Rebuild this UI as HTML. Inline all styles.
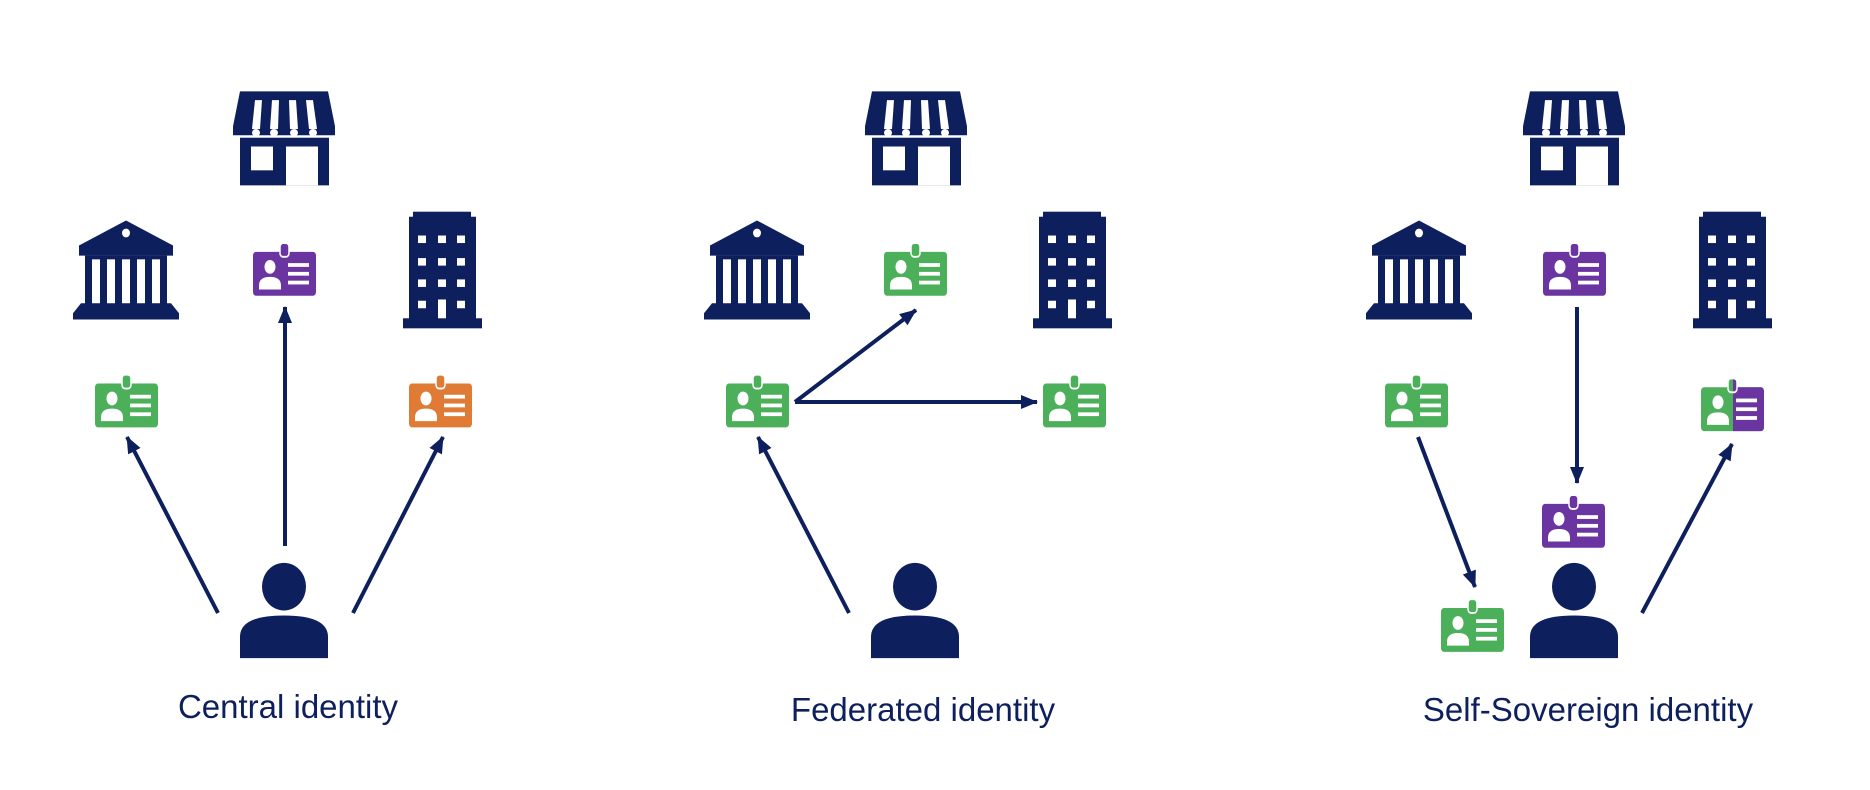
<!DOCTYPE html>
<html><head><meta charset="utf-8"><style>html,body{margin:0;padding:0;background:#fff}svg{display:block}</style></head>
<body>
<svg width="1870" height="790" viewBox="0 0 1870 790" xmlns="http://www.w3.org/2000/svg">
<defs>
<g id="card">
  <rect x="0" y="0" width="63" height="35" rx="3" fill="currentColor"/>
  <rect x="27" y="-7" width="9" height="11" rx="3" fill="currentColor" stroke="#fff" stroke-width="1.5"/>
  <circle cx="17" cy="12" r="5.5" fill="#fff"/>
  <path d="M6,30 V27 Q6,20 17,20 Q28,20 28,27 V30 Z" fill="#fff"/>
  <rect x="35" y="9" width="21" height="3" fill="#fff"/>
  <rect x="35" y="16" width="21" height="3" fill="#fff"/>
  <rect x="35" y="23" width="21" height="3" fill="#fff"/>
</g>
<g id="store">
  <polygon points="7,0 95,0 102,28 102,35 0,35 0,28" fill="#0d1f5c"/>
  <polygon points="22,7 29,7 27,30 19,30" fill="#fff"/>
  <polygon points="39,7 46,7 45,30 37,30" fill="#fff"/>
  <polygon points="56,7 63,7 65,30 57,30" fill="#fff"/>
  <polygon points="73,7 80,7 84,30 76,30" fill="#fff"/>
  <ellipse cx="23" cy="33" rx="4" ry="3" fill="#fff"/>
  <ellipse cx="41" cy="33" rx="4" ry="3" fill="#fff"/>
  <ellipse cx="61" cy="33" rx="4" ry="3" fill="#fff"/>
  <ellipse cx="80" cy="33" rx="4" ry="3" fill="#fff"/>
  <rect x="7" y="37" width="89" height="38" fill="#0d1f5c"/>
  <rect x="18" y="44" width="22" height="19" fill="#fff"/>
  <rect x="53" y="44" width="32" height="31" fill="#fff"/>
</g>
<g id="bank">
  <polygon points="53,0 100,20 100,28 6,28 6,20" fill="#0d1f5c"/>
  <ellipse cx="53" cy="10" rx="4" ry="3.5" fill="#fff"/>
  <rect x="12" y="28" width="82" height="40" fill="#0d1f5c"/>
  <rect x="19" y="31" width="8" height="37" fill="#fff"/>
  <rect x="34" y="31" width="8" height="37" fill="#fff"/>
  <rect x="49" y="31" width="8" height="37" fill="#fff"/>
  <rect x="64" y="31" width="8" height="37" fill="#fff"/>
  <rect x="79" y="31" width="8" height="37" fill="#fff"/>
  <polygon points="8,66 98,66 106,74 106,79 0,79 0,74" fill="#0d1f5c"/>
</g>
<g id="bldg">
  <rect x="10" y="0" width="58" height="6" fill="#0d1f5c"/>
  <rect x="6" y="4" width="67" height="83" fill="#0d1f5c"/>
  <rect x="0" y="85" width="79" height="8" fill="#0d1f5c"/>
  <g fill="#fff">
    <rect x="15" y="19" width="8" height="6"/><rect x="35" y="19" width="8" height="6"/><rect x="54" y="19" width="8" height="6"/>
    <rect x="15" y="37" width="8" height="6"/><rect x="35" y="37" width="8" height="6"/><rect x="54" y="37" width="8" height="6"/>
    <rect x="15" y="54" width="8" height="6"/><rect x="35" y="54" width="8" height="6"/><rect x="54" y="54" width="8" height="6"/>
    <rect x="15" y="71" width="8" height="6"/><rect x="35" y="70" width="8" height="15"/><rect x="54" y="71" width="8" height="6"/>
  </g>
</g>
<g id="person">
  <ellipse cx="0" cy="0" rx="22" ry="19" fill="#0d1f5c"/>
  <path d="M-44,57 V40 Q-44,23 0,23 Q44,23 44,40 V57 Z" fill="#0d1f5c"/>
</g>
<clipPath id="rhalf"><rect x="32" y="-10" width="40" height="50"/></clipPath>
<marker id="ah" markerUnits="userSpaceOnUse" markerWidth="18" markerHeight="16" refX="16" refY="8" orient="auto">
  <path d="M0,1 L17,8 L0,15 Z" fill="#0d1f5c"/>
</marker>
</defs>

<g transform="translate(0,70) scale(1,1.254) translate(0,-70)">
  <use href="#store" transform="translate(233,87)"/>
  <use href="#bank" transform="translate(73,190)"/>
  <use href="#bldg" transform="translate(403,183)"/>
  <use href="#card" transform="translate(253,215)" style="color:#6a35a0"/>
  <use href="#card" transform="translate(95,320)" style="color:#4caf5a"/>
  <use href="#card" transform="translate(409,320)" style="color:#e07b35"/>
  <use href="#person" transform="translate(284,482)"/>

  <use href="#store" transform="translate(865,87)"/>
  <use href="#bank" transform="translate(704,190)"/>
  <use href="#bldg" transform="translate(1033,183)"/>
  <use href="#card" transform="translate(884,215)" style="color:#4caf5a"/>
  <use href="#card" transform="translate(726,320)" style="color:#4caf5a"/>
  <use href="#card" transform="translate(1043,320)" style="color:#4caf5a"/>
  <use href="#person" transform="translate(915,482)"/>

  <use href="#store" transform="translate(1523,87)"/>
  <use href="#bank" transform="translate(1366,190)"/>
  <use href="#bldg" transform="translate(1693,183)"/>
  <use href="#card" transform="translate(1543,215)" style="color:#6a35a0"/>
  <use href="#card" transform="translate(1385,320)" style="color:#4caf5a"/>
  <g transform="translate(1701,323)">
    <use href="#card" style="color:#4caf5a"/>
    <g clip-path="url(#rhalf)"><use href="#card" style="color:#6a35a0"/></g>
  </g>
  <use href="#card" transform="translate(1542,416)" style="color:#6a35a0"/>
  <use href="#card" transform="translate(1441,499)" style="color:#4caf5a"/>
  <use href="#person" transform="translate(1574,482)"/>
</g>

<g stroke="#0d1f5c" stroke-width="4" fill="none" marker-end="url(#ah)">
  <line x1="218" y1="613" x2="127" y2="437"/>
  <line x1="285" y1="546" x2="285" y2="307"/>
  <line x1="353" y1="613" x2="443" y2="437"/>
  <line x1="795" y1="402" x2="916" y2="310"/>
  <line x1="795" y1="402" x2="1037" y2="402"/>
  <line x1="849" y1="613" x2="758" y2="437"/>
  <line x1="1418" y1="437" x2="1475" y2="587"/>
  <line x1="1577" y1="307" x2="1577" y2="483"/>
  <line x1="1642" y1="613" x2="1732" y2="444"/>
</g>

<g font-family="Liberation Sans, Arial, sans-serif" font-size="33" fill="#0d1f5c" text-anchor="middle">
  <text x="288" y="718">Central identity</text>
  <text x="923" y="721">Federated identity</text>
  <text x="1588" y="721">Self-Sovereign identity</text>
</g>
</svg>
</body></html>
